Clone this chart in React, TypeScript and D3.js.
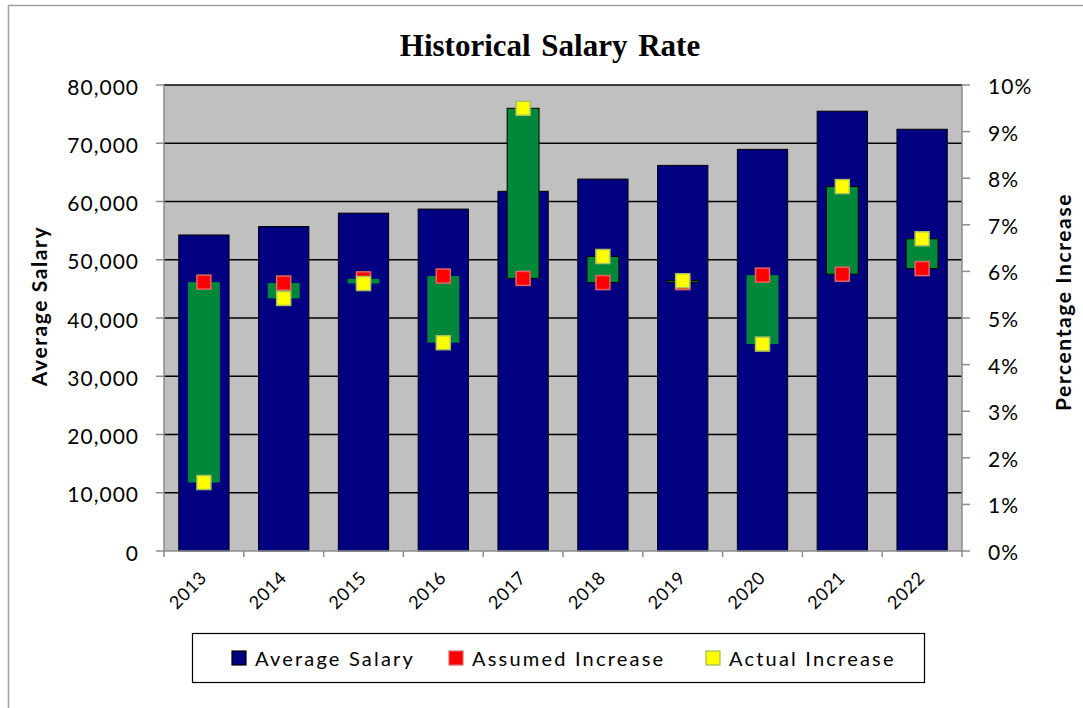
import * as d3 from "d3";

const years = ["2013", "2014", "2015", "2016", "2017", "2018", "2019", "2020", "2021", "2022"];
const avgSalary = [54250, 55700, 58000, 58700, 61750, 63850, 66200, 68950, 75500, 72400];
const assumedIncrease = [5.77, 5.75, 5.84, 5.9, 5.85, 5.76, 5.76, 5.92, 5.94, 6.06];
const actualIncrease = [1.47, 5.42, 5.74, 4.47, 9.5, 6.32, 5.8, 4.44, 7.82, 6.7];
const salaryTicks = [0, 10000, 20000, 30000, 40000, 50000, 60000, 70000, 80000];
const pctTicks = [0, 1, 2, 3, 4, 5, 6, 7, 8, 9, 10];
const legendItems = ["Average Salary", "Assumed Increase", "Actual Increase"];

const W = 1083;
const H = 708;
const plot = { left: 164, right: 962, top: 85, bottom: 551 };
const sansFont = "Lato, 'Open Sans', sans-serif";

const App = () => {
    const x = d3.scaleBand<string>().domain(years).range([plot.left, plot.right]);
    const ySal = d3.scaleLinear().domain([0, 80000]).range([plot.bottom, plot.top]);
    const yPct = d3.scaleLinear().domain([0, 10]).range([plot.bottom, plot.top]);
    const fmt = d3.format(",");

    const bw = x.bandwidth();
    const barW = bw * 0.63;
    const updownW = bw * 0.4;
    const mk = 14; // marker size

    const legendColors = [
        { fill: "#000080", stroke: "#000" },
        { fill: "#FF0000", stroke: "#E06666" },
        { fill: "#FFFF00", stroke: "#9BBB59" },
    ];
    const legendX = [232, 449, 706];

    return (
        <svg
            width={W}
            height={H}
            style={{ position: "absolute", left: 0, top: 0, background: "#fff" }}
        >
            {/* chart border */}
            <rect x={8.5} y={5.5} width={1100} height={720} fill="none" stroke="#A0A0A0" strokeWidth={1.5} />

            {/* title */}
            <text
                x={550}
                y={56}
                textAnchor="middle"
                fontFamily="'Liberation Serif', 'Times New Roman', serif"
                fontWeight="bold"
                fontSize={31}
                wordSpacing={3}
            >
                Historical Salary Rate
            </text>

            {/* plot area */}
            <rect x={plot.left} y={plot.top} width={plot.right - plot.left} height={plot.bottom - plot.top} fill="#C0C0C0" />

            {/* gridlines */}
            {salaryTicks.slice(1).map((t) => (
                <line key={t} x1={plot.left} x2={plot.right} y1={ySal(t)} y2={ySal(t)} stroke="#000" strokeWidth={1.5} />
            ))}

            {/* salary bars */}
            {years.map((yr, i) => (
                <rect
                    key={yr}
                    x={x(yr)! + (bw - barW) / 2}
                    y={ySal(avgSalary[i])}
                    width={barW}
                    height={plot.bottom - ySal(avgSalary[i])}
                    fill="#000080"
                    stroke="#000"
                    strokeWidth={1}
                />
            ))}

            {/* up / down bars */}
            {years.map((yr, i) => {
                const a = assumedIncrease[i];
                const b = actualIncrease[i];
                const up = b > a;
                const top = yPct(Math.max(a, b));
                const h = Math.max(1.5, yPct(Math.min(a, b)) - top);
                return (
                    <rect
                        key={yr}
                        x={x(yr)! + (bw - updownW) / 2}
                        y={top}
                        width={updownW}
                        height={h}
                        fill="#00883A"
                        stroke={up ? "#000" : "none"}
                        strokeWidth={1}
                    />
                );
            })}

            {/* assumed markers */}
            {years.map((yr, i) => (
                <rect
                    key={yr}
                    x={x(yr)! + bw / 2 - mk / 2}
                    y={yPct(assumedIncrease[i]) - mk / 2}
                    width={mk}
                    height={mk}
                    fill="#FF0000"
                    stroke="#E06666"
                    strokeWidth={1.5}
                />
            ))}

            {/* actual markers */}
            {years.map((yr, i) => (
                <rect
                    key={yr}
                    x={x(yr)! + bw / 2 - mk / 2}
                    y={yPct(actualIncrease[i]) - mk / 2}
                    width={mk}
                    height={mk}
                    fill="#FFFF00"
                    stroke="#A9C25E"
                    strokeWidth={1.5}
                />
            ))}

            {/* axes lines */}
            <line x1={plot.left} x2={plot.left} y1={plot.top} y2={plot.bottom} stroke="#8C8C8C" strokeWidth={1.5} />
            <line x1={plot.right} x2={plot.right} y1={plot.top} y2={plot.bottom} stroke="#8C8C8C" strokeWidth={1.5} />
            <line x1={plot.left} x2={plot.right} y1={plot.bottom} y2={plot.bottom} stroke="#8C8C8C" strokeWidth={1.5} />

            {/* left axis */}
            {salaryTicks.map((t) => (
                <g key={t}>
                    <line x1={plot.left - 8} x2={plot.left} y1={ySal(t)} y2={ySal(t)} stroke="#8C8C8C" strokeWidth={1.5} />
                    <text
                        x={139}
                        y={ySal(t) + 9.5}
                        textAnchor="end"
                        fontFamily={sansFont}
                        fontSize={21}
                        letterSpacing={1}
                        fill="#000"
                    >
                        {fmt(t)}
                    </text>
                </g>
            ))}

            {/* right axis */}
            {pctTicks.map((t) => (
                <g key={t}>
                    <line x1={plot.right} x2={plot.right + 8} y1={yPct(t)} y2={yPct(t)} stroke="#8C8C8C" strokeWidth={1.5} />
                    <text x={988} y={yPct(t) + 9} fontFamily={sansFont} fontSize={21} letterSpacing={1} fill="#000">
                        {t}%
                    </text>
                </g>
            ))}

            {/* x axis */}
            {[...years.map((yr) => x(yr)!), plot.right].map((px, i) => (
                <line key={i} x1={px} x2={px} y1={plot.bottom} y2={plot.bottom + 6} stroke="#8C8C8C" strokeWidth={1.5} />
            ))}
            {years.map((yr) => (
                <text
                    key={yr}
                    transform={`translate(${x(yr)! + bw / 2 + 4},579) rotate(-45)`}
                    textAnchor="end"
                    fontFamily={sansFont}
                    fontSize={18}
                    letterSpacing={0.6}
                    fill="#000"
                >
                    {yr}
                </text>
            ))}

            {/* axis titles */}
            <text
                transform="translate(47,306) rotate(-90)"
                textAnchor="middle"
                fontFamily={sansFont}
                fontWeight="bold"
                fontSize={21}
                letterSpacing={1.6}
            >
                Average Salary
            </text>
            <text
                transform="translate(1071,302) rotate(-90)"
                textAnchor="middle"
                fontFamily={sansFont}
                fontWeight="bold"
                fontSize={21}
                letterSpacing={1.6}
            >
                Percentage Increase
            </text>

            {/* legend */}
            <rect x={192.5} y={633.5} width={732} height={49} fill="#fff" stroke="#000" strokeWidth={1.2} />
            {legendItems.map((name, i) => (
                <g key={name}>
                    <rect
                        x={legendX[i]}
                        y={651}
                        width={14}
                        height={14}
                        fill={legendColors[i].fill}
                        stroke={legendColors[i].stroke}
                        strokeWidth={1.2}
                    />
                    <text
                        x={legendX[i] + 23}
                        y={666}
                        fontFamily={sansFont}
                        fontSize={20}
                        letterSpacing={2.2}
                        fill="#000"
                    >
                        {name}
                    </text>
                </g>
            ))}
        </svg>
    );
};

export default App;
